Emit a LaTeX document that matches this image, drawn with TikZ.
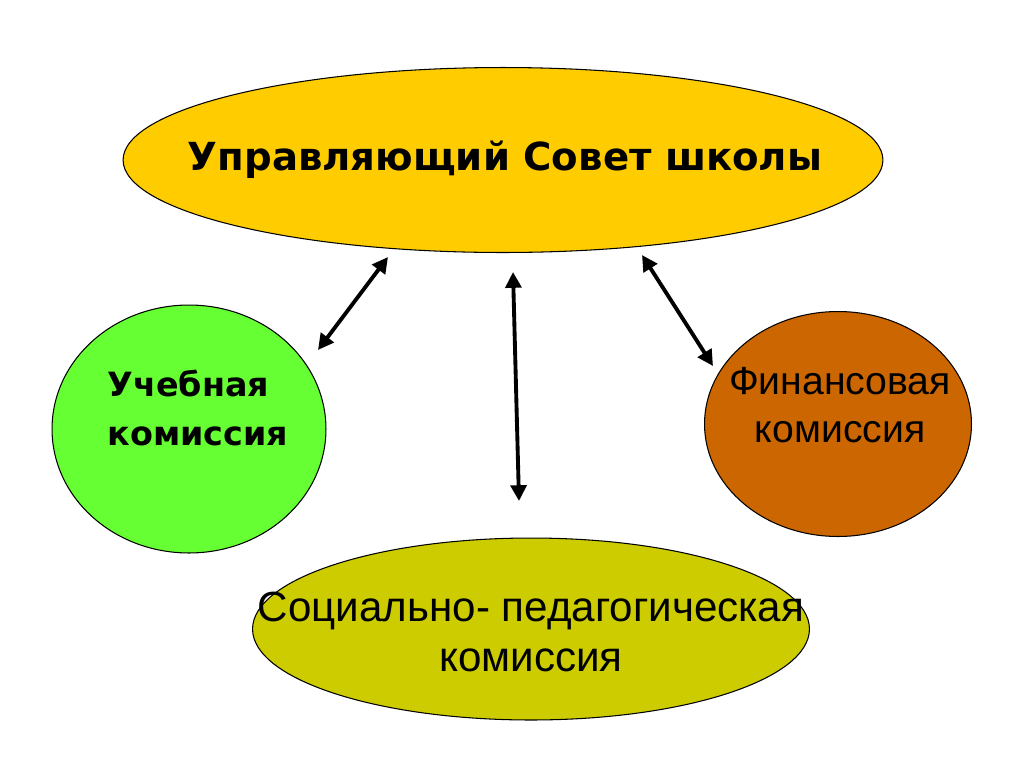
\documentclass[tikz,border=0pt]{standalone}
\usepackage{fontspec}
\setmainfont{DejaVu Sans}
\newfontfamily\regfont{Liberation Sans}
\usetikzlibrary{shapes.geometric,arrows.meta}
\definecolor{topY}{RGB}{255,204,0}
\definecolor{greenC}{RGB}{102,255,51}
\definecolor{brownC}{RGB}{204,102,0}
\definecolor{oliveC}{RGB}{204,204,0}
\begin{document}
\begin{tikzpicture}[x=0.02cm,y=-0.02cm,
  blob/.style={draw=black,line width=0.6pt,ellipse,inner sep=0pt},
  conn/.style={line width=2.2pt,{Triangle[length=9pt,width=9pt]}-{Triangle[length=9pt,width=9pt]}},
  lbl/.style={font=\fontsize{19}{28}\selectfont\bfseries},
  reglbl/.style={align=center,font=\regfont\fontsize{22.3}{27}\selectfont}]
\useasboundingbox (0,0) rectangle (1024,768);
\fill[white] (0,0) rectangle (1024,768);
\node[blob,fill=topY,minimum width=15.2cm,minimum height=3.7cm] (top) at (503,160) {};
\node[blob,fill=greenC,minimum width=5.48cm,minimum height=4.96cm] (edu) at (189,429) {};
\node[blob,fill=brownC,minimum width=5.34cm,minimum height=4.5cm] (fin) at (838,424) {};
\node[blob,fill=oliveC,minimum width=11.14cm,minimum height=3.64cm] (soc) at (531,629) {};
\node[font=\fontsize{22}{30}\selectfont\bfseries] (ttop) at (505,160) {Управляющий Совет школы};
\node[lbl,align=left] (tedu) at (198,408) {Учебная\\комиссия};
\node[reglbl] (tfin) at (840,405) {Финансовая\\комиссия};
\node[reglbl,font=\regfont\fontsize{24}{28}\selectfont] (tsoc) at (531,632) {Социально- педагогическая\\комиссия};
\coordinate (a1) at (388,257); \coordinate (b1) at (318,350);
\coordinate (a2) at (513,272); \coordinate (b2) at (519,501);
\coordinate (a3) at (642,255); \coordinate (b3) at (713,366);
\draw[conn] (a1) -- (b1);
\draw[conn] (a2) -- (b2);
\draw[conn] (a3) -- (b3);
\end{tikzpicture}
\end{document}
